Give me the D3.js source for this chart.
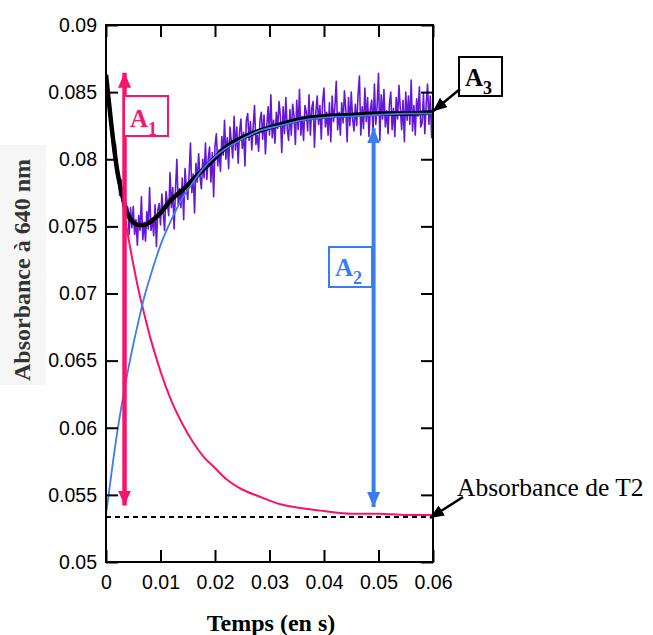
<!DOCTYPE html>
<html><head><meta charset="utf-8">
<script src="https://cdn.jsdelivr.net/npm/d3@7"></script>
<style>body{margin:0;background:#fff}svg{display:block}</style>
</head><body>
<svg id="c" width="653" height="635"></svg>
<script>
// ---- data ----
const xTicks = [0, 0.01, 0.02, 0.03, 0.04, 0.05, 0.06];
const xTickLabels = ["0", "0.01", "0.02", "0.03", "0.04", "0.05", "0.06"];
const yTicks = [0.05, 0.055, 0.06, 0.065, 0.07, 0.075, 0.08, 0.085, 0.09];
const yTickLabels = ["0.05", "0.055", "0.06", "0.065", "0.07", "0.075", "0.08", "0.085", "0.09"];

// measured absorbance (noisy), sampled every 0.00025 s from 0 to 0.06 s
const measuredStep = 0.00025;
const measured = [
0.0865,0.0849,0.0852,0.0832, 0.0831,0.0809,0.0813,0.0811, 0.0787,0.0791,0.0773,0.0785,
0.0769,0.0779,0.0754,0.0765, 0.0764,0.0744,0.0764,0.0749, 0.0765,0.0744,0.0755,0.0736,
0.0758,0.0747,0.0772,0.0740, 0.0753,0.0739,0.0761,0.0748, 0.0779,0.0747,0.0756,0.0743,
0.0766,0.0735,0.0762,0.0767, 0.0751,0.0774,0.0760,0.0747, 0.0776,0.0768,0.0758,0.0790,
0.0764,0.0779,0.0748,0.0777, 0.0800,0.0766,0.0778,0.0764, 0.0786,0.0755,0.0793,0.0778,
0.0770,0.0789,0.0812,0.0775, 0.0789,0.0760,0.0797,0.0783, 0.0804,0.0787,0.0778,0.0800,
0.0786,0.0812,0.0785,0.0800, 0.0809,0.0783,0.0805,0.0772, 0.0810,0.0819,0.0795,0.0807,
0.0791,0.0817,0.0803,0.0829, 0.0800,0.0816,0.0793,0.0824, 0.0813,0.0801,0.0832,0.0807,
0.0824,0.0797,0.0820,0.0830, 0.0808,0.0820,0.0795,0.0829, 0.0834,0.0814,0.0828,0.0807,
0.0824,0.0840,0.0811,0.0818, 0.0806,0.0829,0.0835,0.0815, 0.0833,0.0804,0.0825,0.0839,
0.0818,0.0848,0.0816,0.0829, 0.0812,0.0835,0.0823,0.0843, 0.0832,0.0805,0.0839,0.0819,
0.0846,0.0823,0.0814,0.0837, 0.0818,0.0841,0.0832,0.0811, 0.0844,0.0822,0.0852,0.0818,
0.0832,0.0814,0.0840,0.0835, 0.0821,0.0848,0.0818,0.0838, 0.0843,0.0809,0.0835,0.0847,
0.0826,0.0840,0.0815,0.0843, 0.0853,0.0824,0.0835,0.0818, 0.0842,0.0813,0.0847,0.0828,
0.0839,0.0858,0.0822,0.0835, 0.0818,0.0842,0.0827,0.0851, 0.0837,0.0813,0.0846,0.0825,
0.0850,0.0830,0.0821,0.0841, 0.0825,0.0848,0.0862,0.0818, 0.0839,0.0823,0.0853,0.0828,
0.0846,0.0817,0.0837,0.0844, 0.0820,0.0856,0.0826,0.0840, 0.0864,0.0814,0.0848,0.0830,
0.0852,0.0824,0.0836,0.0819, 0.0841,0.0850,0.0822,0.0838, 0.0817,0.0846,0.0830,0.0855,
0.0838,0.0822,0.0844,0.0813, 0.0850,0.0829,0.0847,0.0826, 0.0859,0.0821,0.0840,0.0818,
0.0845,0.0832,0.0854,0.0824, 0.0827,0.0849,0.0819,0.0841, 0.0856,0.0826,0.0847,0.0816,
0.0843
];

// fitted curves (time in s, absorbance)
const fitT   = [0,0.001,0.002,0.003,0.004,0.005,0.006,0.007,0.008,0.009,0.010,0.012,0.014,0.016,0.018,0.020,0.022,0.025,0.028,0.032,0.036,0.040,0.045,0.050,0.055,0.060];
const fitA3  = [0.0863,0.0825,0.0793,0.0773,0.0759,0.0753,0.0751,0.0751,0.0753,0.0756,0.0760,0.0770,0.0777,0.0785,0.0793,0.0801,0.0809,0.0816,0.0821,0.0826,0.0830,0.0832,0.0833,0.0834,0.0834,0.0835];
const compA1 = [0.0863,0.0827,0.0797,0.0769,0.0744,0.0722,0.0702,0.0685,0.0669,0.0655,0.0642,0.0620,0.0603,0.0589,0.0578,0.0570,0.0562,0.0554,0.0549,0.0543,0.0540,0.0538,0.0536,0.0536,0.0535,0.0535];
const compA2 = [0.0535,0.0566,0.0595,0.0620,0.0642,0.0662,0.0680,0.0697,0.0711,0.0724,0.0736,0.0755,0.0771,0.0783,0.0794,0.0802,0.0808,0.0815,0.0821,0.0825,0.0829,0.0831,0.0832,0.0833,0.0834,0.0834];
const absT2 = 0.05335;

// annotation values
const a1Arrow = {t: 0.0034, top: 0.08645, bottom: 0.0542};
const a2Arrow = {t: 0.0491, top: 0.0823, bottom: 0.0541};

// ---- drawing ----
const svg = d3.select("#c");
const L = 106, R = 433, T = 25, B = 562;
const x = d3.scaleLinear([0, 0.06], [L, R]);
const y = d3.scaleLinear([0.05, 0.09], [B, T]);

const PINK = "#f7146c", BLUE = "#3a7cf2", PURPLE = "#6418d6";

// faint box behind y label
svg.append("rect").attr("x", 0).attr("y", 145).attr("width", 46).attr("height", 240).attr("fill", "#f6f6f6");

svg.append("defs").append("clipPath").attr("id", "plot")
  .append("rect").attr("x", L).attr("y", T).attr("width", R - L).attr("height", B - T);

const g = svg.append("g").attr("clip-path", "url(#plot)");

// measured data
g.append("path")
  .datum(measured.map((v, i) => [i * measuredStep, v]))
  .attr("fill", "none").attr("stroke", PURPLE).attr("stroke-width", 1.6).attr("stroke-linejoin", "round")
  .attr("d", d3.line().x(d => x(d[0])).y(d => y(d[1])));

const fitLine = d3.line().x(d => x(d[0])).y(d => y(d[1])).curve(d3.curveMonotoneX);

// dashed T2 absorbance
g.append("line").attr("x1", L).attr("x2", R).attr("y1", y(absT2)).attr("y2", y(absT2))
  .attr("stroke", "#000").attr("stroke-width", 2).attr("stroke-dasharray", "5,4");

// pink component
g.append("path").datum(fitT.map((t, i) => [t, compA1[i]]))
  .attr("fill", "none").attr("stroke", PINK).attr("stroke-width", 2).attr("d", fitLine);

// black fit
g.append("path").datum(fitT.map((t, i) => [t, fitA3[i]]))
  .attr("fill", "none").attr("stroke", "#000").attr("stroke-width", 4.5).attr("d", fitLine);

// blue component
g.append("path").datum(fitT.map((t, i) => [t, compA2[i]]))
  .attr("fill", "none").attr("stroke", BLUE).attr("stroke-width", 1.8).attr("d", fitLine);

// frame
svg.append("rect").attr("x", L).attr("y", T).attr("width", R - L).attr("height", B - T)
  .attr("fill", "none").attr("stroke", "#000").attr("stroke-width", 2);

// axes
const font = "'Liberation Sans', Arial, Helvetica, sans-serif";
function styleAxis(sel) {
  sel.select(".domain").remove();
  sel.selectAll(".tick line").attr("stroke", "#000").attr("stroke-width", 2);
  sel.selectAll(".tick text").attr("fill", "#000").style("font-family", font).style("font-size", "19.5px");
}
svg.append("g").attr("transform", `translate(${L},0)`)
  .call(d3.axisLeft(y).tickValues(yTicks).tickFormat((d, i) => yTickLabels[i]).tickSizeInner(-12).tickSizeOuter(0).tickPadding(9))
  .call(styleAxis);
svg.append("g").attr("transform", `translate(${R},0)`)
  .call(d3.axisRight(y).tickValues(yTicks).tickFormat("").tickSizeInner(-12).tickSizeOuter(0))
  .call(styleAxis);
svg.append("g").attr("transform", `translate(0,${B})`)
  .call(d3.axisBottom(x).tickValues(xTicks).tickFormat((d, i) => xTickLabels[i]).tickSizeInner(-12).tickSizeOuter(0).tickPadding(13))
  .call(styleAxis);
svg.append("g").attr("transform", `translate(0,${T})`)
  .call(d3.axisTop(x).tickValues(xTicks).tickFormat("").tickSizeInner(-12).tickSizeOuter(0))
  .call(styleAxis);

// axis titles
const serif = "'Liberation Serif', 'Times New Roman', Times, serif";
svg.append("text").attr("x", 271).attr("y", 631).attr("text-anchor", "middle")
  .style("font-family", serif).style("font-weight", "bold").style("font-size", "24px").text("Temps (en s)");
svg.append("text").attr("transform", "translate(30,270) rotate(-90)").attr("text-anchor", "middle")
  .attr("fill", "#333")
  .style("font-family", serif).style("font-weight", "bold").style("font-size", "24px").text("Absorbance à 640 nm");

// arrow helpers
const defs = svg.select("defs");
function marker(id, color, w, h) {
  defs.append("marker").attr("id", id).attr("viewBox", `0 0 ${h} ${w}`)
    .attr("refX", h).attr("refY", w / 2).attr("markerWidth", h).attr("markerHeight", w)
    .attr("markerUnits", "userSpaceOnUse").attr("orient", "auto-start-reverse")
    .append("path").attr("d", `M0,0L${h},${w / 2}L0,${w}Z`).attr("fill", color);
}
marker("mPink", PINK, 13, 15);
marker("mBlue", BLUE, 13, 15);
marker("mBlack", "#000", 12, 14);

// A1 arrow
svg.append("line").attr("x1", x(a1Arrow.t)).attr("x2", x(a1Arrow.t)).attr("y1", y(a1Arrow.top)).attr("y2", y(a1Arrow.bottom))
  .attr("stroke", PINK).attr("stroke-width", 4.5)
  .attr("marker-start", "url(#mPink)").attr("marker-end", "url(#mPink)");
// A2 arrow
svg.append("line").attr("x1", x(a2Arrow.t)).attr("x2", x(a2Arrow.t)).attr("y1", y(a2Arrow.top)).attr("y2", y(a2Arrow.bottom))
  .attr("stroke", BLUE).attr("stroke-width", 4)
  .attr("marker-start", "url(#mBlue)").attr("marker-end", "url(#mBlue)");

// label boxes
function labelBox(x0, y0, w, h, color, sub, ax, ab) {
  svg.append("rect").attr("x", x0).attr("y", y0).attr("width", w).attr("height", h)
    .attr("fill", "#fff").attr("stroke", color).attr("stroke-width", 2);
  const t = svg.append("text").attr("x", ax).attr("y", ab).attr("fill", color)
    .style("font-family", serif).style("font-weight", "bold").style("font-size", "25px");
  t.append("tspan").text("A");
  t.append("tspan").attr("dy", 8).style("font-size", "18px").text(sub);
}
labelBox(124, 96, 44, 40, PINK, "1", 130, 127);
labelBox(329, 247, 43, 40, BLUE, "2", 335, 276);
labelBox(459, 57, 43, 39, "#000", "3", 465, 86);

// pointers
svg.append("line").attr("x1", 460).attr("y1", 89).attr("x2", x(0.06)).attr("y2", y(0.0835) - 1)
  .attr("stroke", "#000").attr("stroke-width", 2.5).attr("marker-end", "url(#mBlack)");
svg.append("text").attr("x", 457).attr("y", 496)
  .style("font-family", serif).style("font-size", "25.5px").text("Absorbance de T2");
svg.append("line").attr("x1", 463).attr("y1", 497).attr("x2", x(0.06) - 3).attr("y2", y(absT2) + 1)
  .attr("stroke", "#000").attr("stroke-width", 2.5).attr("marker-end", "url(#mBlack)");
</script>
</body></html>
